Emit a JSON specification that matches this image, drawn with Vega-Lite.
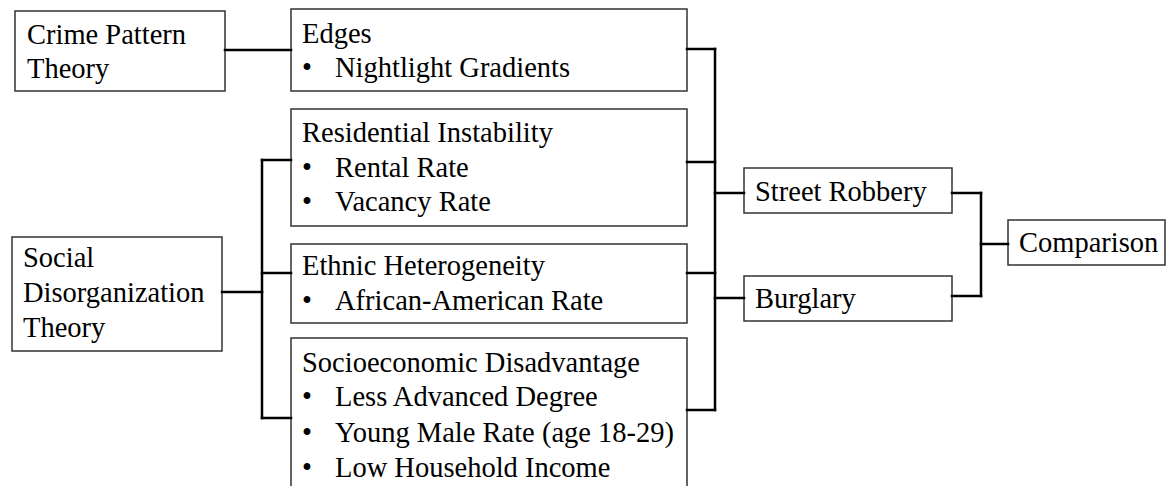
{
  "$schema": "https://vega.github.io/schema/vega-lite/v6.json",
  "width": 1166,
  "height": 486,
  "autosize": {"type": "fit", "contains": "padding"},
  "padding": 0,
  "background": "white",
  "config": {"view": {"stroke": null}},
  "datasets": {
    "boxes": [
      {"name": "Crime Pattern Theory", "x": 15, "x2": 225, "y": 11, "y2": 91},
      {"name": "Social Disorganization Theory", "x": 12, "x2": 222, "y": 237, "y2": 351},
      {"name": "Edges", "x": 291, "x2": 687, "y": 9, "y2": 91},
      {"name": "Residential Instability", "x": 291, "x2": 687, "y": 109, "y2": 226},
      {"name": "Ethnic Heterogeneity", "x": 291, "x2": 687, "y": 244, "y2": 323},
      {"name": "Socioeconomic Disadvantage", "x": 291, "x2": 687, "y": 338, "y2": 492},
      {"name": "Street Robbery", "x": 744, "x2": 952, "y": 168, "y2": 213},
      {"name": "Burglary", "x": 744, "x2": 952, "y": 276, "y2": 321},
      {"name": "Comparison", "x": 1008, "x2": 1165, "y": 220, "y2": 265}
    ],
    "links": [
      {"x": 225, "x2": 291, "y": 50, "y2": 50},
      {"x": 222, "x2": 262, "y": 292, "y2": 292},
      {"x": 262, "x2": 262, "y": 160, "y2": 418},
      {"x": 262, "x2": 291, "y": 160, "y2": 160},
      {"x": 262, "x2": 291, "y": 273, "y2": 273},
      {"x": 262, "x2": 291, "y": 418, "y2": 418},
      {"x": 687, "x2": 715, "y": 49, "y2": 49},
      {"x": 687, "x2": 715, "y": 162, "y2": 162},
      {"x": 687, "x2": 715, "y": 273, "y2": 273},
      {"x": 687, "x2": 715, "y": 410, "y2": 410},
      {"x": 715, "x2": 715, "y": 49, "y2": 410},
      {"x": 715, "x2": 744, "y": 193, "y2": 193},
      {"x": 715, "x2": 744, "y": 298, "y2": 298},
      {"x": 952, "x2": 981, "y": 193, "y2": 193},
      {"x": 952, "x2": 981, "y": 296, "y2": 296},
      {"x": 981, "x2": 981, "y": 193, "y2": 296},
      {"x": 981, "x2": 1008, "y": 244, "y2": 244}
    ],
    "labels": [
      {"text": "Crime Pattern", "x": 27, "y": 44},
      {"text": "Theory", "x": 27, "y": 78},
      {"text": "Social", "x": 23, "y": 267},
      {"text": "Disorganization", "x": 23, "y": 302},
      {"text": "Theory", "x": 23, "y": 337},
      {"text": "Edges", "x": 302, "y": 43},
      {"text": "•", "x": 302, "y": 77},
      {"text": "Nightlight Gradients", "x": 335, "y": 77},
      {"text": "Residential Instability", "x": 302, "y": 142},
      {"text": "•", "x": 302, "y": 177},
      {"text": "Rental Rate", "x": 335, "y": 177},
      {"text": "•", "x": 302, "y": 211},
      {"text": "Vacancy Rate", "x": 335, "y": 211},
      {"text": "Ethnic Heterogeneity", "x": 302, "y": 275},
      {"text": "•", "x": 302, "y": 310},
      {"text": "African-American Rate", "x": 335, "y": 310},
      {"text": "Socioeconomic Disadvantage", "x": 302, "y": 372},
      {"text": "•", "x": 302, "y": 406},
      {"text": "Less Advanced Degree", "x": 335, "y": 406},
      {"text": "•", "x": 302, "y": 442},
      {"text": "Young Male Rate (age 18-29)", "x": 335, "y": 442},
      {"text": "•", "x": 302, "y": 477},
      {"text": "Low Household Income", "x": 335, "y": 477},
      {"text": "Street Robbery", "x": 755, "y": 201},
      {"text": "Burglary", "x": 755, "y": 308},
      {"text": "Comparison", "x": 1019, "y": 252}
    ]
  },
  "layer": [
    {
      "data": {"name": "boxes"},
      "mark": {"type": "rect", "fill": "white", "stroke": "#333333", "strokeWidth": 1.5, "clip": true},
      "encoding": {
        "x": {"field": "x", "type": "quantitative", "scale": {"domain": [0, 1166], "nice": false, "zero": false}, "axis": null},
        "x2": {"field": "x2"},
        "y": {"field": "y", "type": "quantitative", "scale": {"domain": [0, 486], "nice": false, "zero": false, "reverse": true}, "axis": null},
        "y2": {"field": "y2"}
      }
    },
    {
      "data": {"name": "links"},
      "mark": {"type": "rule", "color": "black", "strokeWidth": 2.5, "strokeCap": "square"},
      "encoding": {
        "x": {"field": "x", "type": "quantitative"},
        "x2": {"field": "x2"},
        "y": {"field": "y", "type": "quantitative"},
        "y2": {"field": "y2"}
      }
    },
    {
      "data": {"name": "labels"},
      "mark": {"type": "text", "align": "left", "baseline": "alphabetic", "font": "Liberation Serif, Times New Roman, serif", "fontSize": 28.5, "color": "black"},
      "encoding": {
        "x": {"field": "x", "type": "quantitative"},
        "y": {"field": "y", "type": "quantitative"},
        "text": {"field": "text"}
      }
    }
  ]
}
